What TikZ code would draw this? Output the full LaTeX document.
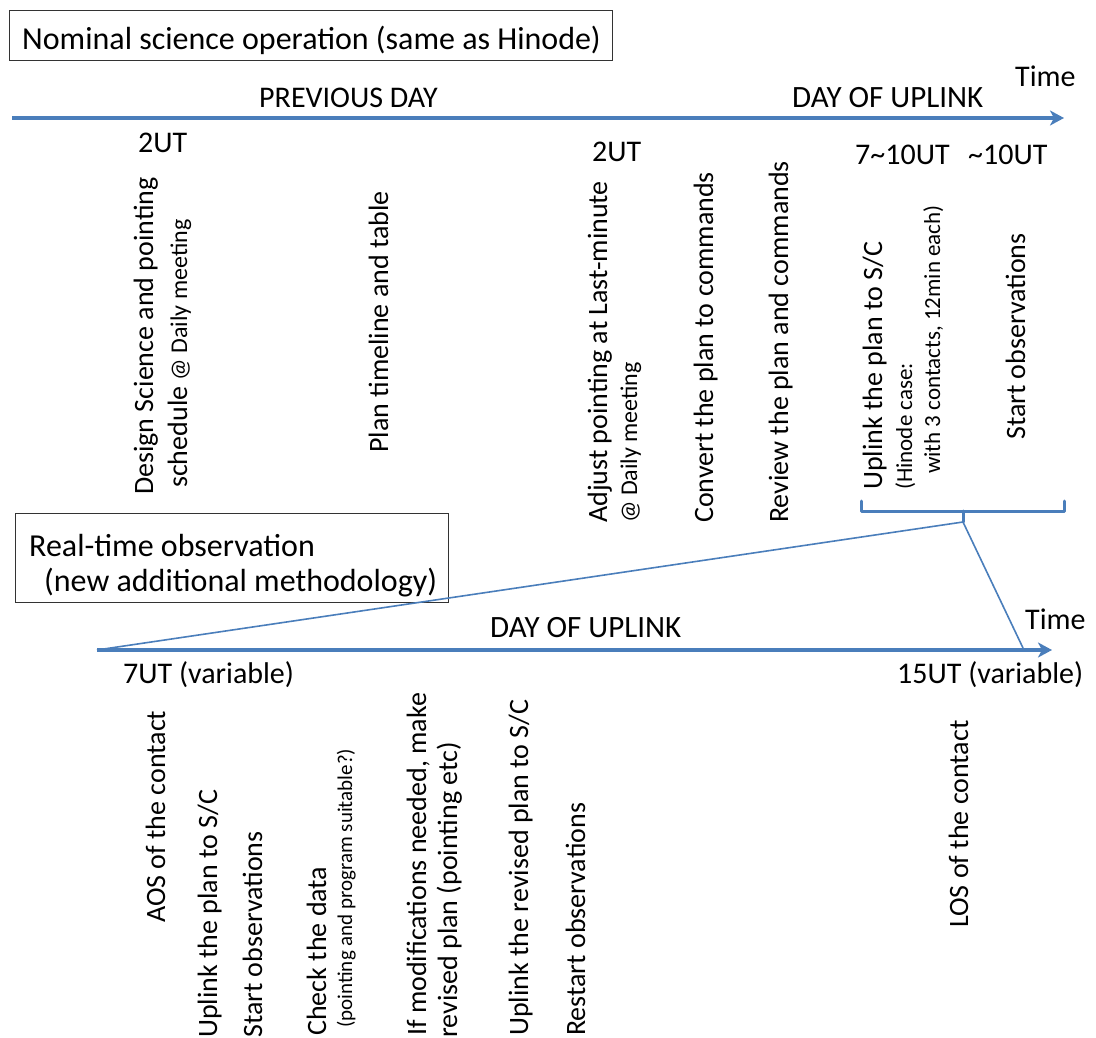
\documentclass[tikz,border=0pt]{standalone}
\usepackage{fontspec}
\setmainfont{Carlito}
\usetikzlibrary{arrows.meta}
\definecolor{myblue}{HTML}{4A7EBB}
\definecolor{boxgray}{HTML}{333333}
\tikzset{
  lbl/.style={inner sep=0pt, anchor=base west, font=\fontsize{30}{36}\selectfont},
  lblw/.style={lbl, font=\fontsize{31}{36}\selectfont},
  rot/.style={rotate=90, inner sep=0pt, anchor=base west, font=\fontsize{28}{34}\selectfont},
  rotsm/.style={rot, font=\fontsize{24}{30}\selectfont},
  rotxs/.style={rot, font=\fontsize{23}{27}\selectfont},
  rottiny/.style={rot, font=\fontsize{21}{25}\selectfont},
  boxtxt/.style={inner sep=0pt, anchor=base west, font=\fontsize{32}{38}\selectfont},
  framebox/.style={draw=boxgray, line width=1.3pt, inner sep=0pt, anchor=north west},
  timearrow/.style={draw=myblue, line width=3.5pt, -{Stealth[length=14pt,width=15pt,inset=4pt]}},
  bracestyle/.style={draw=myblue, line width=3pt, line cap=round, line join=round},
  thinline/.style={draw=myblue, line width=1.6pt}
}
\begin{document}
\begin{tikzpicture}[x=1pt,y=-1pt]
\useasboundingbox (0,0) rectangle (1096,1038);
\clip (0,0) rectangle (1096,1038);
\fill[white] (0,0) rectangle (1096,1038);

% ---------- top part ----------
\node[framebox, minimum width=603pt, minimum height=50pt] (nombox) at (9,10) {};
\node[boxtxt] (nomtxt) at (22,50) {Nominal science operation (same as Hinode)};

\coordinate (t1s) at (12,118);
\coordinate (t1e) at (1064,118);
\draw[timearrow] (t1s) -- (t1e);

\node[lbl] (prev) at (259,108) {PREVIOUS DAY};
\node[lblw] (dayup1) at (792,108) {DAY OF UPLINK};
\node[lbl] (time1) at (1015,87) {Time};

\node[lbl] (ut2a) at (138,153) {2UT};
\node[lbl] (ut2b) at (592,162) {2UT};
\node[lbl] (ut710) at (855,165) {7\textasciitilde10UT};
\node[lbl] (ut10) at (968,165) {\textasciitilde10UT};

\node[rot] (design1) at (153,495) {Design Science and pointing};
\node[rot] (design2) at (187,488) {schedule {\fontsize{24}{30}\selectfont @ Daily meeting}};
\node[rot] (plan) at (388,453) {Plan timeline and table};
\node[rot] (adj1) at (607,523) {Adjust pointing at Last-minute};
\node[rotsm] (adj2) at (637,523) {@ Daily meeting};
\node[rot] (conv) at (713,523) {Convert the plan to commands};
\node[rot] (rev) at (788,523) {Review the plan and commands};
\node[rot] (upl1) at (882,490) {Uplink the plan to S/C};
\node[rotxs] (upl2) at (912,490) {(Hinode case:};
\node[rotxs] (upl3) at (940,474) {with 3 contacts, 12min each)};
\node[rot] (start1) at (1025,440) {Start observations};

% brace
\coordinate (brl) at (861,501);
\coordinate (brlb) at (861,511);
\coordinate (brrb) at (1064,511);
\coordinate (brr) at (1064,501);
\coordinate (brm) at (963,511);
\coordinate (brc) at (963,522);
\draw[bracestyle] (brl) -- (brlb) -- (brrb) -- (brr);
\draw[bracestyle] (brm) -- (brc);

% ---------- bottom part ----------
\node[framebox, minimum width=433pt, minimum height=89pt] (rtbox) at (15,513) {};
\node[boxtxt] (rt1) at (29,556) {Real-time observation};
\node[boxtxt] (rt2) at (44,591) {(new additional methodology)};

\coordinate (t2s) at (97,650);
\coordinate (t2e) at (1052,650);
\coordinate (t2hit) at (1023,648);
\draw[timearrow] (t2s) -- (t2e);

\draw[thinline] (brc) -- (t2s);
\draw[thinline] (brc) -- (t2hit);

\node[lblw] (dayup2) at (490,637) {DAY OF UPLINK};
\node[lbl] (time2) at (1025,629) {Time};
\node[lbl] (ut7) at (123,683) {7UT (variable)};
\node[lbl] (ut15) at (897,683) {15UT (variable)};

\node[rot] (aos) at (165,923) {AOS of the contact};
\node[rot] (bupl) at (217,1038) {Uplink the plan to S/C};
\node[rot] (bstart) at (262,1038) {Start observations};
\node[rot] (check1) at (326,1036) {Check the data};
\node[rottiny] (check2) at (352,1028) {(pointing and program suitable?)};
\node[rot] (mod1) at (426,1036) {If modifications needed, make};
\node[rot] (mod2) at (457,1038) {revised plan (pointing etc)};
\node[rot] (rupl) at (528,1036) {Uplink the revised plan to S/C};
\node[rot] (restart) at (585,1036) {Restart observations};
\node[rot] (los) at (968,928) {LOS of the contact};
\end{tikzpicture}
\end{document}
